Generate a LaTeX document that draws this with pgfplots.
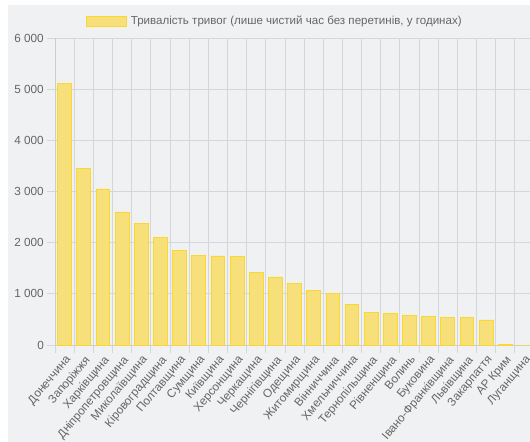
\documentclass[border=0pt]{standalone}
\usepackage{fontspec}
\setmainfont{Liberation Sans}
\usepackage{pgfplots}
\pgfplotsset{compat=1.18}
\definecolor{panel}{HTML}{F0F1F3}
\definecolor{gridc}{HTML}{D5D6D9}
\definecolor{barfill}{HTML}{F7E07A}
\definecolor{baredge}{HTML}{FAD830}
\definecolor{txt}{HTML}{666666}
\begin{document}
\begin{tikzpicture}
\fill[panel] (-47bp,-97bp) rectangle (475bp,340bp);
\begin{axis}[
  scale only axis,
  width=479bp, height=307bp,
  ybar, bar width=0.72,
  xmin=-0.5, xmax=24.5, ymin=0, ymax=6000,
  axis x line*=bottom, axis y line*=left,
  axis line style={draw=gridc!80!black!60, line width=0.8bp},
  xtick={0,...,24},
  xticklabels={Донеччина, Запоріжжя, Харківщина, Дніпропетровщина, Миколаївщина, Кіровоградщина, Полтавщина, Сумщина, Київщина, Херсонщина, Черкащина, Чернігівщина, Одещина, Житомирщина, Вінниччина, Хмельниччина, Тернопільщина, Рівненщина, Волинь, Буковина, Івано-Франківщина, Львівщина, Закарпаття, АР Крим, Луганщина},
  minor xtick={-0.5,0.5,...,24.5},
  ytick={0,1000,...,6000},
  xminorgrids, ymajorgrids,
  grid style={draw=gridc, line width=0.8bp},
  minor grid style={draw=gridc, line width=0.8bp},
  tick align=outside,
  major tick length=8bp, minor tick length=8bp,
  major x tick style={draw=none},
  tick style={draw=gridc, line width=0.8bp},
  /pgf/number format/assume math mode=true,
  /pgf/number format/1000 sep={\ },
  scaled y ticks=false,
  every tick label/.append style={font=\fontsize{11.8}{14}\selectfont, text=txt},
  xticklabel style={rotate=50, anchor=north east, inner sep=1bp},
  yticklabel style={inner sep=1bp, xshift=-2bp},
  legend style={at={(0.458,1.055)}, anchor=center, draw=none, fill=none,
    font=\fontsize{11.6}{14}\selectfont, text=txt, inner sep=0pt,
    nodes={inner sep=1bp},
    /tikz/every odd column/.append style={column sep=3bp}},
]
\addplot[fill=barfill, draw=baredge, line width=0.8bp,
  legend image code/.code={\draw[fill=barfill, draw=baredge, line width=0.8bp] (0bp,-5bp) rectangle (40bp,5bp);}]
  coordinates {(0,5110) (1,3445) (2,3050) (3,2600) (4,2380) (5,2110) (6,1850) (7,1750) (8,1740) (9,1725) (10,1410) (11,1330) (12,1195) (13,1065) (14,1000) (15,790) (16,635) (17,620) (18,580) (19,550) (20,545) (21,545) (22,490) (23,15) (24,0)};
\addlegendentry{Тривалість тривог (лише чистий час без перетинів, у годинах)}
\end{axis}
\pgfresetboundingbox
\path[use as bounding box] (-55bp,-97bp) rectangle (475bp,345bp);
\end{tikzpicture}
\end{document}
